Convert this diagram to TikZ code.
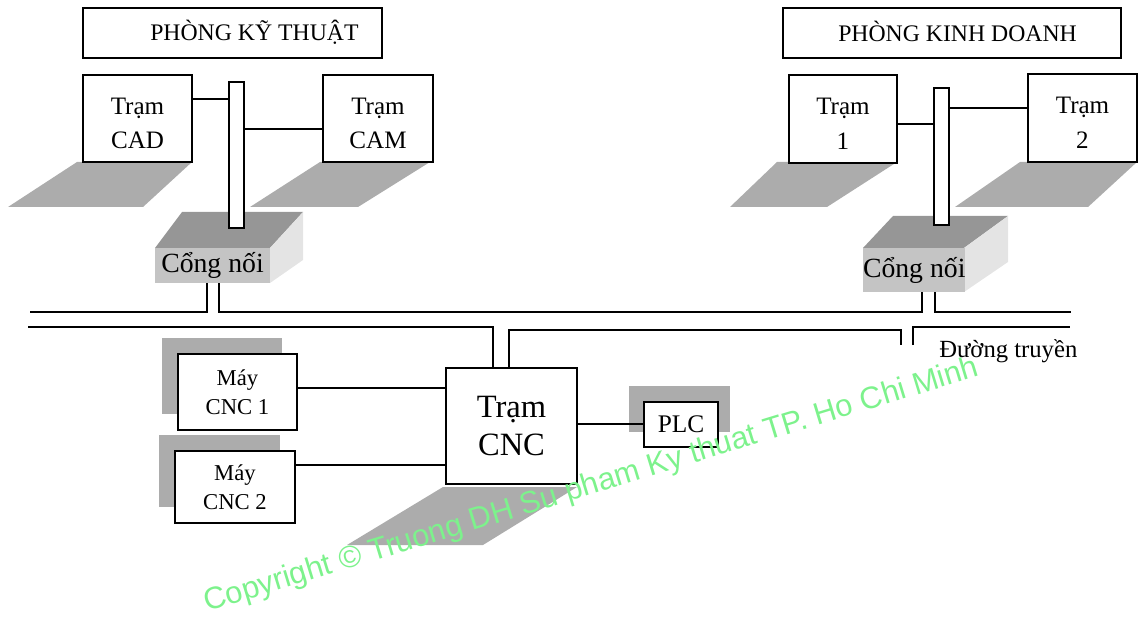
\documentclass[tikz,border=0pt]{standalone}
\usepackage{fontspec}
\setmainfont{Liberation Serif}
\newfontfamily\wmfont{Liberation Sans}
\definecolor{shadowgray}{RGB}{172,172,172}
\definecolor{gtopc}{RGB}{150,150,150}
\definecolor{gfrontc}{RGB}{196,196,196}
\definecolor{gsidec}{RGB}{228,228,228}
\definecolor{wmgreen}{RGB}{125,242,140}
\begin{document}
\begin{tikzpicture}[x=0.75pt,y=-0.75pt,
  box/.style={draw, line width=1.5pt, fill=white, inner sep=0pt, outer sep=0pt, anchor=north west, align=center},
  wire/.style={line width=1.3pt},
  shadowfill/.style={fill=shadowgray, draw=none},
  gfront/.style={fill=gfrontc, draw=none, inner sep=0pt, outer sep=0pt, anchor=north west},
  txt/.style={font=\fontsize{18.8}{26}\selectfont},
  smalltxt/.style={font=\fontsize{17}{22}\selectfont},
  bigtxt/.style={font=\fontsize{24.4}{28.5}\selectfont},
  titletxt/.style={font=\fontsize{17.8}{20}\selectfont, anchor=base west, inner sep=0pt}]
\useasboundingbox (0,0) rectangle (1138,620);

% ---------- shadows ----------
\fill[shadowfill] (8,207) -- (143,207) -- (192,162) -- (77,162) -- cycle;
\fill[shadowfill] (250,207) -- (358,207) -- (430,162) -- (320,162) -- cycle;
\fill[shadowfill] (730,207) -- (827,207) -- (897,162) -- (777,162) -- cycle;
\fill[shadowfill] (955,207) -- (1088,207) -- (1137,162) -- (1020,162) -- cycle;
\fill[shadowfill] (347,545) -- (483,545) -- (577,487) -- (443,487) -- cycle;
\fill[shadowfill] (162,338) rectangle (282,414);
\fill[shadowfill] (159,435) rectangle (280,507);
\fill[shadowfill] (629,386) rectangle (730,432);

% ---------- title boxes ----------
\node[box, minimum width=224.25pt, minimum height=37.5pt] (kt) at (83,8) {};
\node[titletxt] (ktt) at (150,41) {PHÒNG KỸ THUẬT};
\node[box, minimum width=253.5pt, minimum height=37.5pt] (kd) at (783,8) {};
\node[titletxt] (kdt) at (838,42) {PHÒNG KINH DOANH};

% ---------- stations ----------
\node[box, txt, minimum width=81.75pt, minimum height=65.25pt] (cad) at (83,75) {\raisebox{0pt}[1.05em]{Trạm}\\CAD};
\node[box, txt, minimum width=82.5pt, minimum height=65.25pt] (cam) at (323,75) {\raisebox{0pt}[1.05em]{Trạm}\\CAM};
\node[box, txt, minimum width=81pt, minimum height=66pt] (t1) at (789,75) {\raisebox{0pt}[1.05em]{Trạm}\\1};
\node[box, txt, minimum width=81.75pt, minimum height=66pt] (t2) at (1028,74) {\raisebox{0pt}[1.05em]{Trạm}\\2};

% ---------- gateways ----------
\fill[gtopc] (155,248) -- (182,212) -- (303,212) -- (270,248) -- cycle;
\fill[gsidec] (270,248) -- (303,212) -- (303,260) -- (270,283) -- cycle;
\node[gfront, font=\fontsize{20.8}{22}\selectfont, minimum width=86.25pt, minimum height=26.25pt] (g1) at (155,248) {Cổng nối};
\fill[gtopc] (863,248) -- (893,216) -- (1008,216) -- (964,248) -- cycle;
\fill[gsidec] (964,248) -- (1008,216) -- (1008,262) -- (964,292) -- cycle;
\node[gfront, font=\fontsize{20.8}{22}\selectfont, minimum width=75.75pt, minimum height=33pt] (g2) at (863,248) {Cổng nối};

% ---------- bars ----------
\node[box, line width=1.4pt, minimum width=11.25pt, minimum height=109.5pt] (lbar) at (229,82) {};
\node[box, line width=1.4pt, minimum width=11.25pt, minimum height=102.75pt] (rbar) at (934,88) {};

% ---------- lower stations ----------
\node[box, bigtxt, minimum width=98.25pt, minimum height=87pt] (cnc) at (446,368) {Trạm\\CNC};
\node[box, smalltxt, minimum width=89.25pt, minimum height=57pt] (m1) at (178,354) {Máy\\CNC 1};
\node[box, smalltxt, minimum width=90pt, minimum height=54pt] (m2) at (175,451) {Máy\\CNC 2};
\node[box, font=\fontsize{19}{20}\selectfont, minimum width=55.5pt, minimum height=33.75pt] (plc) at (644,402) {PLC};

% ---------- station links ----------
\draw[wire] (cad.east |- 0,99) -- (lbar.west |- 0,99);
\draw[wire] (lbar.east |- 0,129) -- (cam.west |- 0,129);
\draw[wire] (t1.east |- 0,124) -- (rbar.west |- 0,124);
\draw[wire] (rbar.east |- 0,108) -- (t2.west |- 0,108);
\draw[wire] (m1.east |- 0,388) -- (cnc.west |- 0,388);
\draw[wire] (m2.east |- 0,465) -- (cnc.west |- 0,465);
\draw[wire] (cnc.east |- 0,424) -- (plc.west |- 0,424);

% ---------- bus ----------
\coordinate (busA) at (30,312);
\coordinate (busB) at (1071,312);
\coordinate (busC) at (28,327);
\coordinate (busD) at (1070,327);
\coordinate (gapL) at (901,345);
\coordinate (gapR) at (913,345);
\draw[wire] (g1.south -| 207,0) -- (207,312) -- (busA);
\draw[wire] (g1.south -| 219,0) -- (219,312) -- (922,312) -- (g2.south -| 922,0);
\draw[wire] (g2.south -| 935,0) -- (935,312) -- (busB);
\draw[wire] (busC) -- (493,327) -- (cnc.north -| 493,0);
\draw[wire] (cnc.north -| 509,0) -- (509,330) -- (901,330) -- (gapL);
\draw[wire] (gapR) -- (913,327) -- (busD);
\node[anchor=base west, inner sep=0pt, font=\fontsize{18.5}{20}\selectfont] (dt) at (939,357) {Đường truyền};

% ---------- watermark ----------
\node[anchor=base west, inner sep=0pt, rotate=17, text=wmgreen, font=\wmfont\fontsize{23.2}{24}\selectfont] (wm) at (207,612) {Copyright © Truong DH Su pham Ky thuat TP. Ho Chi Minh};
\end{tikzpicture}
\end{document}
